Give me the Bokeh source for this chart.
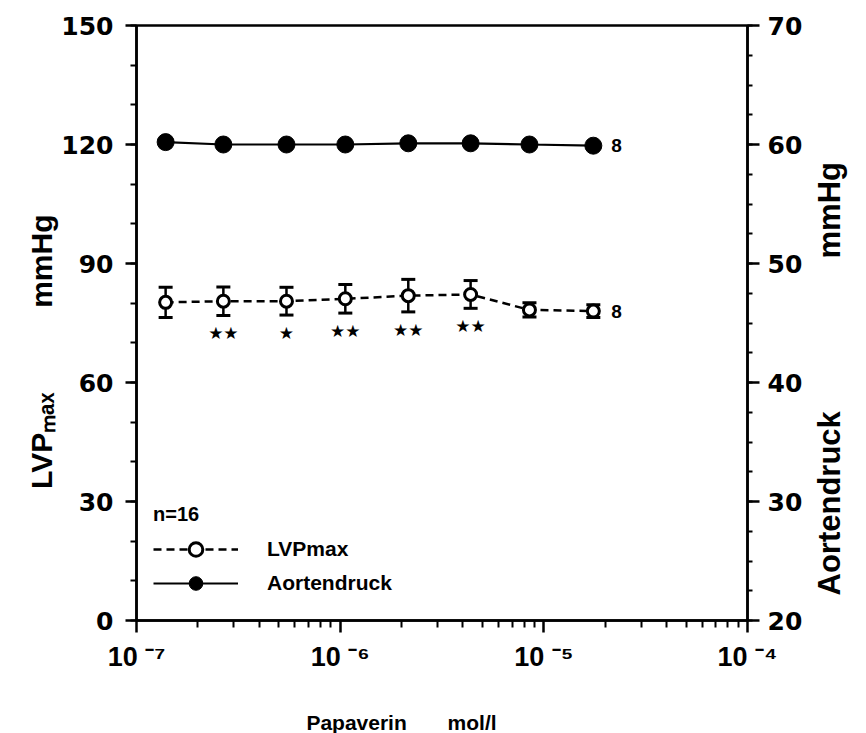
import math

from bokeh.core.properties import value
from bokeh.embed import file_html
from bokeh.models import (ColumnDataSource, CustomJSTickFormatter, FixedTicker,
                          Label, LabelSet, Legend, LegendItem, LinearAxis, LogAxis,
                          Range1d, TeeHead, Whisker)
from bokeh.plotting import figure
from bokeh.resources import INLINE

# ---- data -----------------------------------------------------------------
concentration = [1.39e-7, 2.67e-7, 5.45e-7, 1.06e-6, 2.16e-6, 4.37e-6, 8.5e-6, 1.75e-5]
lvp_max = [80.2, 80.5, 80.5, 81.1, 81.9, 82.2, 78.3, 78.0]          # mmHg, left axis
lvp_sem = [3.8, 3.6, 3.5, 3.6, 4.1, 3.5, 1.8, 1.6]
aortendruck = [60.2, 60.0, 60.0, 60.0, 60.1, 60.1, 60.0, 59.9]   # mmHg, right axis
significance = ["", "★★", "★", "★★", "★★", "★★", "", ""]
n_end = "8"
n_total = "n=16"

left_ticks = [0, 30, 60, 90, 120, 150]
left_minor = list(range(0, 151, 10))
right_ticks = [20, 30, 40, 50, 60, 70]
right_minor = [20 + 2.5 * i for i in range(21)]
x_ticks = [1e-7, 1e-6, 1e-5, 1e-4]
x_tick_labels = ["10 \u207b\u2077", "10 \u207b\u2076", "10 \u207b\u2075", "10 \u207b\u2074"]
x_minor = [k * 10.0 ** e for e in (-7, -6, -5) for k in range(2, 10)]

left_title = ["LVP\u2098\u2090\u2093", "mmHg"]
right_title = ["Aortendruck", "mmHg"]
x_title = "Papaverin\u00a0\u00a0\u00a0\u00a0\u00a0\u00a0\u00a0mol/l"

# ---- layout (pixels) ------------------------------------------------------
FL, FR, FT, FB = 136, 747, 25, 620
W, H = 866, 733
BOLD = "bold"
SANS = "Liberation Sans"


def xd(px):
    """pixel column -> data x on the log axis"""
    return 10 ** (-7 + (px - FL) * 3.0 / (FR - FL))


def yd(py):
    """pixel row -> data y on the left axis"""
    return (FB - py) * 150.0 / (FB - FT)


p = figure(
    frame_width=FR - FL, frame_height=FB - FT,
    x_axis_type="log", x_range=Range1d(1e-7, 1e-4), y_range=Range1d(0, 150),
    min_border_left=FL, min_border_right=W - FR, min_border_top=FT,
    min_border_bottom=H - FB,
    output_backend="svg", toolbar_location=None,
    background_fill_color="white", border_fill_color="white",
    outline_line_color="black", outline_line_width=2.5,
)
p.extra_y_ranges = {"aorta": Range1d(20, 70)}
p.grid.visible = False


def style_axis(ax):
    ax.axis_line_width = 2.5
    ax.major_tick_line_width = 2.5
    ax.minor_tick_line_width = 2
    ax.major_tick_in = 0
    ax.minor_tick_in = 0
    ax.major_tick_out = 11
    ax.minor_tick_out = 6
    ax.major_label_text_font = "DejaVu Sans"
    ax.major_label_text_font_style = BOLD
    ax.major_label_text_font_size = "25px"
    ax.major_label_text_color = "black"


def title_axis(ax, labels, orient, standoff, size):
    """an axis without line or ticks that only carries the title text"""
    ax.formatter = CustomJSTickFormatter(args=dict(labels=labels),
                                         code="return labels[index]")
    ax.axis_line_color = None
    ax.major_tick_line_color = None
    ax.minor_tick_line_color = None
    ax.major_tick_out = 0
    ax.major_tick_in = 0
    ax.minor_tick_out = 0
    ax.minor_tick_in = 0
    ax.major_label_orientation = orient
    ax.major_label_standoff = standoff
    ax.major_label_text_font = SANS
    ax.major_label_text_font_style = BOLD
    ax.major_label_text_font_size = size
    ax.major_label_text_color = "black"


# left axis
ya = p.yaxis[0]
ya.ticker = FixedTicker(ticks=left_ticks, minor_ticks=left_minor)
style_axis(ya)
ya.major_label_standoff = 12

# left title: the upper end of each word sits on its tick
lt = LinearAxis(ticker=FixedTicker(ticks=[yd(392), yd(214)], minor_ticks=[]))
title_axis(lt, left_title, math.pi / 2, 17, "30px")
p.add_layout(lt, "left")

# right axis
ra = LinearAxis(y_range_name="aorta",
                ticker=FixedTicker(ticks=right_ticks, minor_ticks=right_minor))
style_axis(ra)
ra.minor_tick_out = 5
ra.major_tick_out = 12
ra.major_label_standoff = 8
p.add_layout(ra, "right")

# right title: the lower end of each word sits on its tick
rt = LinearAxis(ticker=FixedTicker(ticks=[yd(595), yd(258)], minor_ticks=[]))
title_axis(rt, right_title, math.pi / 2, 24, "31px")
p.add_layout(rt, "right")

# bottom axis
xa = p.xaxis[0]
xa.ticker = FixedTicker(ticks=x_ticks, minor_ticks=x_minor)
style_axis(xa)
xa.major_tick_out = 12
xa.minor_tick_out = 7
xa.major_label_standoff = 9
xa.major_label_text_font = SANS
xa.major_label_text_font_size = "27px"
xa.formatter = CustomJSTickFormatter(args=dict(labels=x_tick_labels),
                                     code="return labels[index]")

# bottom title
bt = LogAxis(ticker=FixedTicker(ticks=[xd(401)], minor_ticks=[]))
title_axis(bt, [x_title], "horizontal", 36, "21px")
p.add_layout(bt, "below")

# ---- series ---------------------------------------------------------------
src = ColumnDataSource(dict(
    x=concentration, lvp=lvp_max,
    upper=[v + s for v, s in zip(lvp_max, lvp_sem)],
    lower=[v - s for v, s in zip(lvp_max, lvp_sem)],
    aorta=aortendruck, sig=significance,
))

whisk = Whisker(source=src, base="x", upper="upper", lower="lower",
                dimension="height", line_width=2.5, line_color="black",
                upper_head=TeeHead(size=14, line_width=3, line_color="black"),
                lower_head=TeeHead(size=14, line_width=3, line_color="black"))
p.add_layout(whisk)

lvp_line = p.line("x", "lvp", source=src, line_color="black", line_width=2.5,
                  line_dash="8 5")
lvp_pts = p.scatter("x", "lvp", source=src, marker="circle", size=12,
                    fill_color="white", line_color="black", line_width=3)

ao_line = p.line("x", "aorta", source=src, y_range_name="aorta",
                 line_color="black", line_width=2.2)
ao_pts = p.scatter("x", "aorta", source=src, y_range_name="aorta",
                   marker="circle", size=17, fill_color="black", line_color="black")

# significance stars below the error bars
p.add_layout(LabelSet(source=src, x="x", y="lower", text="sig",
                      y_offset=-8, text_align="center", text_baseline="top",
                      text_font=value("DejaVu Sans"), text_font_size="17px",
                      text_color="black"))

# group size at the end of each curve
p.add_layout(Label(x=concentration[-1], y=aortendruck[-1], y_range_name="aorta",
                   text=n_end, x_offset=18, text_baseline="middle",
                   text_font=SANS, text_font_style=BOLD,
                   text_font_size="19px", text_color="black"))
p.add_layout(Label(x=concentration[-1], y=lvp_max[-1], text=n_end, x_offset=18,
                   text_baseline="middle", text_font=SANS,
                   text_font_style=BOLD, text_font_size="19px",
                   text_color="black"))

# ---- legend ---------------------------------------------------------------
legend = Legend(
    items=[LegendItem(label="LVPmax", renderers=[lvp_line, lvp_pts]),
           LegendItem(label="Aortendruck", renderers=[ao_line, ao_pts])],
    location=(17, 20), title=n_total,
    title_text_font=SANS, title_text_font_style=BOLD,
    title_text_font_size="20px", title_standoff=6, title_text_color="black",
    label_text_font=SANS, label_text_font_style=BOLD,
    label_text_font_size="21px", label_text_color="black",
    glyph_width=85, glyph_height=34, label_standoff=29, spacing=0,
    padding=0, margin=0, border_line_alpha=0, background_fill_alpha=0,
)
p.add_layout(legend)

open("out.html", "w").write(file_html(p, INLINE))
